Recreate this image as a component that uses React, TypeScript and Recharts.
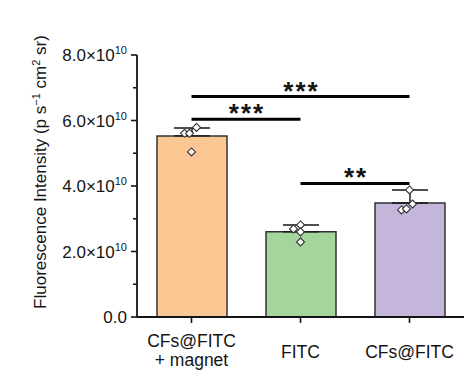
import React from 'react';
import {
    ComposedChart,
    Bar,
    Cell,
    ErrorBar,
    Scatter,
    XAxis,
    YAxis,
    ReferenceLine,
    Label
} from 'recharts';

const categories = ['CFs@FITC\n+ magnet', 'FITC', 'CFs@FITC'];
const meanValues = [5.53e10, 2.6e10, 3.48e10];
const errorUp = [0.24e10, 0.21e10, 0.4e10];
const barColors = ['#fac792', '#a4d59b', '#c4b5db'];

// replicate points per group: [value, horizontal jitter in category units]
const replicateValues = [
    [5.61e10, 5.61e10, 5.79e10, 5.04e10],
    [2.81e10, 2.69e10, 2.6e10, 2.29e10],
    [3.88e10, 3.27e10, 3.3e10, 3.45e10],
];
const replicateJitter = [
    [-0.064, -0.018, 0.046, 0],
    [0, -0.064, 0, 0],
    [0, -0.073, -0.028, 0.028],
];

const yTicks = [0, 1e10, 2e10, 3e10, 4e10, 5e10, 6e10, 7e10, 8e10];

// significance brackets: [from group, to group, height, stars]
const brackets: [number, number, number, string][] = [
    [0, 2, 6.73e10, '***'],
    [0, 1, 6.04e10, '***'],
    [1, 2, 4.08e10, '**'],
];

const barData = categories.map((name, i) => ({
    name,
    mean: meanValues[i],
    err: [0, errorUp[i]],
}));

const pointData = replicateValues.flatMap((vals, g) =>
    vals.map((v, k) => ({ gx: g + replicateJitter[g][k], y: v }))
);

const FONT = '"Liberation Sans", Arial, Helvetica, sans-serif';
const INK = '#141414';

const YTick = (props: any) => {
    const { x, y, payload } = props;
    const v = payload.value as number;
    const major = Math.round(v / 1e10) % 2 === 0;
    const mant = (v / 1e10).toFixed(1);
    return (
        <g>
            <line x1={x} x2={x - (major ? 6 : 4)} y1={y} y2={y} stroke={INK} strokeWidth={1.6} />
            {major && (
                <text x={x - 10} y={y} dy={6} textAnchor="end" fontFamily={FONT} fontSize={17} fill={INK}>
                    {v === 0 ? (
                        '0.0'
                    ) : (
                        <>
                            {mant}×10
                            <tspan dy={-7} fontSize={11}>10</tspan>
                        </>
                    )}
                </text>
            )}
        </g>
    );
};

const XTick = (props: any) => {
    const { x, y, payload } = props;
    const lines = String(payload.value).split('\n');
    const first = lines.length > 1 ? 24 : 35;
    return (
        <text x={x} y={y + first} textAnchor="middle" fontFamily={FONT} fontSize={17.5} fill={INK}>
            {lines.map((l, i) => (
                <tspan key={i} x={x} dy={i === 0 ? 0 : 19}>{l}</tspan>
            ))}
        </text>
    );
};

const Diamond = (props: any) => {
    const { cx, cy } = props;
    if (cx == null || cy == null) return null;
    const r = 4;
    return (
        <polygon
            points={`${cx},${cy - r} ${cx + r},${cy} ${cx},${cy + r} ${cx - r},${cy}`}
            fill="#fff"
            stroke="#333"
            strokeWidth={1.1}
        />
    );
};

const starLabel = (stars: string) => (p: any) => {
    const vb = p.viewBox || {};
    const cx = (vb.x ?? 0) + (vb.width ?? 0) / 2;
    const cy = vb.y ?? 0;
    return (
        <text x={cx + 1} y={cy + 3} textAnchor="middle" fontFamily={FONT} fontWeight="bold" fontSize={26} letterSpacing={2} fill={INK}>
            {stars}
        </text>
    );
};

const yTitle = (p: any) => {
    const vb = p.viewBox || { x: 0, y: 55, height: 262 };
    const tx = vb.x + 46;
    const ty = vb.y + vb.height / 2 - 14;
    return (
        <text transform={`translate(${tx},${ty}) rotate(-90)`} textAnchor="middle" fontFamily={FONT} fontSize={17} fill={INK}>
            Fluorescence Intensity (p s
            <tspan dy={-6} fontSize={11}>−1</tspan>
            <tspan dy={6}> cm</tspan>
            <tspan dy={-6} fontSize={11}>2</tspan>
            <tspan dy={6}> sr)</tspan>
        </text>
    );
};

export default function App() {
    return (
        <div style={{ position: 'absolute', left: 0, top: 0, width: 474, height: 376, background: '#fff' }}>
            <ComposedChart width={474} height={376} data={barData} margin={{ top: 55, right: 10, bottom: 0, left: 0 }}>
                <XAxis
                    dataKey="name"
                    height={59}
                    tick={<XTick />}
                    tickSize={6}
                    tickMargin={0}
                    tickLine={{ stroke: INK, strokeWidth: 1.6 }}
                    axisLine={{ stroke: INK, strokeWidth: 1.8 }}
                    interval={0}
                />
                <XAxis xAxisId="top" orientation="top" height={0} tick={false} tickLine={false} axisLine={{ stroke: INK, strokeWidth: 1.8 }} />
                <XAxis xAxisId="num" dataKey="gx" type="number" domain={[-0.5, 2.5]} hide allowDataOverflow />
                <YAxis
                    width={137}
                    domain={[0, 8e10]}
                    ticks={yTicks}
                    interval={0}
                    tick={<YTick />}
                    tickSize={0}
                    tickMargin={0}
                    tickLine={false}
                    axisLine={{ stroke: INK, strokeWidth: 1.8 }}
                    allowDataOverflow
                >
                    <Label content={yTitle} />
                </YAxis>
                <YAxis yAxisId="right" orientation="right" width={0} tick={false} tickLine={false} axisLine={{ stroke: INK, strokeWidth: 1.8 }} />
                <Bar dataKey="mean" barSize={70} stroke="#333" strokeWidth={1.5} isAnimationActive={false}>
                    {barData.map((d, i) => (
                        <Cell key={`bar-${i}`} fill={barColors[i]} />
                    ))}
                    <ErrorBar dataKey="err" width={18} stroke={INK} strokeWidth={1.4} direction="y" />
                </Bar>
                {brackets.map(([a, b, h, stars], i) => (
                    <ReferenceLine
                        key={`br-${i}`}
                        xAxisId="num"
                        segment={[{ x: a, y: h }, { x: b, y: h }]}
                        stroke="#000"
                        strokeWidth={3}
                        ifOverflow="visible"
                        label={starLabel(stars)}
                    />
                ))}
                <Scatter xAxisId="num" data={pointData} dataKey="y" shape={<Diamond />} isAnimationActive={false} />
            </ComposedChart>
        </div>
    );
}
